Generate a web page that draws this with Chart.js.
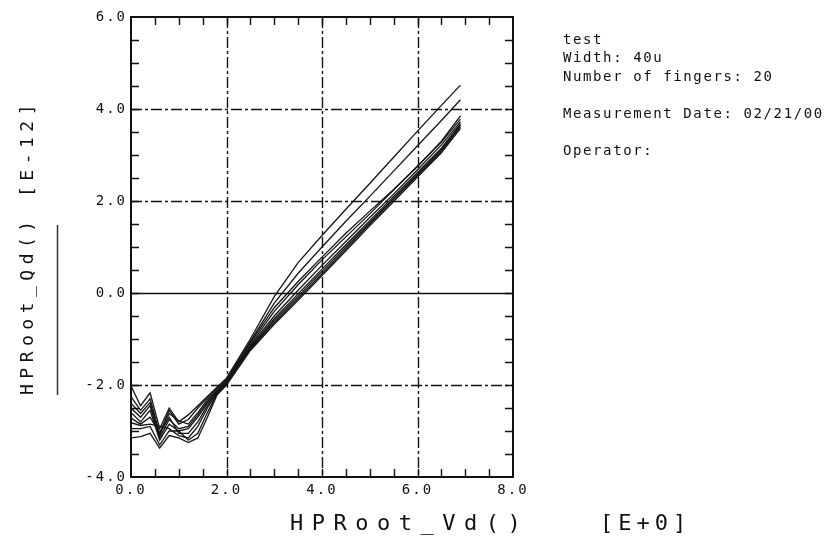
<!DOCTYPE html>
<html>
<head>
<meta charset="utf-8">
<script src="https://cdn.jsdelivr.net/npm/chart.js@4.4.1/dist/chart.umd.min.js"></script>
<style>
  html, body { margin: 0; padding: 0; background: #fff; }
  #wrap { position: relative; width: 829px; height: 546px; }
</style>
</head>
<body>
<div id="wrap"><canvas id="chartQd"></canvas></div>
<script>
// --- data (Vd in V, Qd in E-12) ---
const vdValues = [0, 0.2, 0.4, 0.6, 0.8, 1.0, 1.2, 1.4, 1.6, 1.8, 2.0, 2.5, 3.0, 3.5, 4.0, 4.5, 5.0, 5.5, 6.0, 6.5, 6.9];
const qd1 = [-2.02, -2.45, -2.17, -2.95, -2.50, -2.80, -2.65, -2.45, -2.25, -2.05, -1.85, -1.00, -0.08, 0.66, 1.25, 1.82, 2.38, 2.95, 3.52, 4.08, 4.52];
const qd2 = [-2.25, -2.55, -2.30, -3.05, -2.55, -2.85, -2.75, -2.50, -2.28, -2.07, -1.88, -1.05, -0.22, 0.43, 1.00, 1.56, 2.10, 2.65, 3.20, 3.75, 4.20];
const qd3 = [-2.40, -2.62, -2.38, -3.10, -2.62, -2.78, -2.85, -2.60, -2.32, -2.10, -1.90, -1.08, -0.32, 0.25, 0.78, 1.30, 1.78, 2.25, 2.75, 3.30, 3.85];
const qd4 = [-2.50, -2.70, -2.45, -3.15, -2.75, -2.95, -2.90, -2.65, -2.36, -2.12, -1.92, -1.12, -0.40, 0.18, 0.72, 1.22, 1.72, 2.24, 2.76, 3.28, 3.78];
const qd5 = [-2.60, -2.80, -2.55, -3.20, -2.85, -3.00, -2.95, -2.70, -2.40, -2.14, -1.94, -1.15, -0.50, 0.06, 0.60, 1.12, 1.64, 2.15, 2.68, 3.22, 3.72];
const qd6 = [-2.72, -2.85, -2.70, -3.05, -2.70, -3.05, -3.05, -2.80, -2.45, -2.16, -1.95, -1.18, -0.56, -0.02, 0.52, 1.05, 1.57, 2.10, 2.62, 3.15, 3.68];
const qd7 = [-2.82, -2.88, -2.85, -2.90, -2.95, -3.10, -3.15, -2.90, -2.50, -2.18, -1.97, -1.20, -0.60, -0.07, 0.47, 1.00, 1.53, 2.06, 2.58, 3.12, 3.65];
const qd8 = [-2.95, -2.95, -2.90, -3.30, -3.00, -3.00, -3.20, -3.05, -2.60, -2.20, -1.98, -1.22, -0.64, -0.12, 0.42, 0.96, 1.50, 2.03, 2.55, 3.08, 3.62];
const qd9 = [-3.15, -3.12, -3.05, -3.37, -3.10, -3.15, -3.25, -3.15, -2.70, -2.22, -2.00, -1.25, -0.68, -0.16, 0.38, 0.92, 1.46, 1.99, 2.52, 3.05, 3.58];

const xTicks = [0, 2, 4, 6, 8];
const yTicks = [-4, -2, 0, 2, 4, 6];
const xTitle = 'HPRoot_Vd()';
const xUnit = '[E+0]';
const yTitle = 'HPRoot_Qd()';
const yUnit = '[E-12]';
const infoLines = ['test', 'Width: 40u', 'Number of fingers: 20', '', 'Measurement Date: 02/21/00', '', 'Operator:'];

const MONO = '"DejaVu Sans Mono", "Liberation Mono", monospace';
const INK = '#111';

const allSeries = [qd1, qd2, qd3, qd4, qd5, qd6, qd7, qd8, qd9];

// grid, frame, inward ticks and the text around the plot
const plotFrame = {
  id: 'plotFrame',
  beforeDraw(chart) {
    chart.ctx.letterSpacing = '2px';
  },
  beforeDatasetsDraw(chart) {
    const { ctx, chartArea: a, scales: { x, y } } = chart;
    ctx.save();
    ctx.letterSpacing = '0px';
    ctx.strokeStyle = INK;
    ctx.lineWidth = 1.4;
    xTicks.slice(1, -1).forEach(v => {
      const px = Math.round(x.getPixelForValue(v)) + 0.5;
      ctx.setLineDash([11, 3, 3, 3]);
      ctx.beginPath(); ctx.moveTo(px, a.top); ctx.lineTo(px, a.bottom); ctx.stroke();
    });
    yTicks.slice(1, -1).forEach(v => {
      const py = Math.round(y.getPixelForValue(v)) + 0.5;
      ctx.setLineDash(v === 0 ? [] : [11, 3, 3, 3]);
      ctx.beginPath(); ctx.moveTo(a.left, py); ctx.lineTo(a.right, py); ctx.stroke();
    });
    ctx.restore();
  },
  afterDraw(chart) {
    const { ctx, chartArea: a, scales: { x, y } } = chart;
    ctx.save();
    ctx.letterSpacing = '0px';
    ctx.strokeStyle = INK;

    // frame
    ctx.lineWidth = 2;
    ctx.strokeRect(a.left, a.top, a.right - a.left, a.bottom - a.top);

    // minor ticks every 0.5, pointing inward on all four sides
    ctx.lineWidth = 1.4;
    const tl = 8;
    for (let v = x.min + 0.5; v < x.max; v += 0.5) {
      const px = Math.round(x.getPixelForValue(v)) + 0.5;
      ctx.beginPath();
      ctx.moveTo(px, a.bottom); ctx.lineTo(px, a.bottom - tl);
      ctx.moveTo(px, a.top); ctx.lineTo(px, a.top + tl);
      ctx.stroke();
    }
    for (let v = y.min + 0.5; v < y.max; v += 0.5) {
      const py = Math.round(y.getPixelForValue(v)) + 0.5;
      ctx.beginPath();
      ctx.moveTo(a.left, py); ctx.lineTo(a.left + tl, py);
      ctx.moveTo(a.right, py); ctx.lineTo(a.right - tl, py);
      ctx.stroke();
    }

    ctx.fillStyle = INK;

    // x axis title
    ctx.font = '22px ' + MONO;
    ctx.letterSpacing = '8.5px';
    ctx.textBaseline = 'middle';
    ctx.textAlign = 'left';
    ctx.fillText(xTitle, 290, 524);
    ctx.letterSpacing = '5px';
    ctx.fillText(xUnit, 600, 524);

    // y axis title (rotated)
    ctx.save();
    ctx.translate(28, 395);
    ctx.rotate(-Math.PI / 2);
    ctx.font = '18px ' + MONO;
    ctx.letterSpacing = '5.5px';
    ctx.textBaseline = 'middle';
    ctx.fillText(yTitle, 0, 0);
    ctx.fillText(yUnit, 198, 0);
    ctx.restore();

    // bar beside the y title
    ctx.lineWidth = 1.5;
    ctx.strokeStyle = '#333';
    ctx.beginPath(); ctx.moveTo(57.5, 225); ctx.lineTo(57.5, 395); ctx.stroke();

    // measurement info block
    ctx.font = '14px ' + MONO;
    ctx.letterSpacing = '1.6px';
    ctx.textBaseline = 'middle';
    infoLines.forEach((t, i) => {
      if (t) ctx.fillText(t, 563, 40 + i * 18.5);
    });

    ctx.restore();
    ctx.letterSpacing = '0px';
  }
};

const datasets = allSeries.map((s, k) => ({
  label: 'Qd ' + (k + 1),
  data: s.map((v, i) => ({ x: vdValues[i], y: v })),
  borderColor: '#151515',
  borderWidth: 1.3,
  pointRadius: 0,
  tension: 0,
  fill: false
}));

new Chart(document.getElementById('chartQd').getContext('2d'), {
  type: 'line',
  data: { datasets },
  options: {
    responsive: true,
    maintainAspectRatio: false,
    animation: false,
    layout: { padding: { left: 0, top: 17, right: 316, bottom: 0 } },
    plugins: { legend: { display: false }, tooltip: { enabled: false } },
    scales: {
      x: {
        type: 'linear', min: 0, max: 8,
        grid: { display: false, drawTicks: false },
        border: { display: false },
        afterFit: s => { s.height = 69; },
        afterBuildTicks: s => { s.ticks = xTicks.map(v => ({ value: v })); },
        ticks: {
          color: INK, padding: 5, maxRotation: 0,
          font: { family: MONO, size: 14 },
          callback: v => Number(v).toFixed(1)
        }
      },
      y: {
        type: 'linear', min: -4, max: 6,
        grid: { display: false, drawTicks: false },
        border: { display: false },
        afterFit: s => { s.width = 131; },
        afterBuildTicks: s => { s.ticks = yTicks.map(v => ({ value: v })); },
        ticks: {
          color: INK, padding: 4,
          font: { family: MONO, size: 14 },
          callback: v => Number(v).toFixed(1)
        }
      }
    }
  },
  plugins: [plotFrame]
});
</script>
</body>
</html>
